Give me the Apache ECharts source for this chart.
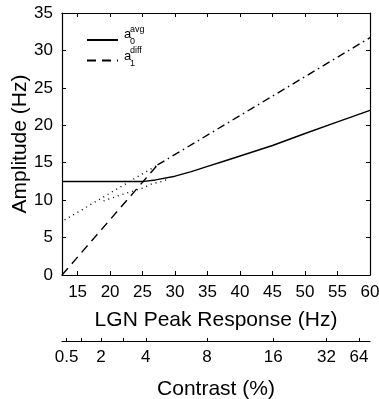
<!DOCTYPE html>
<html>
<head>
<meta charset="utf-8">
<script src="https://cdn.jsdelivr.net/npm/echarts@6/dist/echarts.min.js"></script>
<style>
  html, body { margin: 0; padding: 0; background: #fff; }
  #main { width: 379px; height: 399px; }
</style>
</head>
<body>
<div id="main"></div>
<script>
// 横轴刻度 (LGN peak response, Hz)
var lgnTicks = [15, 20, 25, 30, 35, 40, 45, 50, 55, 60]
// 对比度刻度及其在 LGN 轴上的位置
var contrastLabels = ['0.5', '2', '4', '8', '16', '32', '64']
var contrastPos = [13.3, 18.6, 25.5, 34.9, 45.1, 53.3, 58.3]
var contrastMinor = [15.5, 22.1]

// a0 avg (实线)
var avgX = [12.6, 25.2, 27, 30, 32.5, 35, 37.5, 40, 42.5, 45, 50, 55, 60]
var avgY = [12.5, 12.5, 12.7, 13.2, 13.8, 14.5, 15.2, 15.9, 16.6, 17.3, 18.9, 20.45, 22.0]
// a1 diff (虚线) 与其延长 (点划线)
var diffX = [12.6, 27.3]
var diffY = [0, 14.7]
var extX = [27.3, 60]
var extY = [14.7, 31.7]
// 点线
var dotUpX = [13.0, 27.3]
var dotUpY = [7.35, 14.7]
var dotLowX = [19.0, 22, 25, 26.5, 28, 28.6]
var dotLowY = [9.9, 10.8, 11.6, 12.2, 12.5, 12.7]

function pairs(xs, ys) {
    return xs.map(function (x, i) { return [x, ys[i]] })
}

var font = 'Liberation Sans'
var black = '#000'

var main = document.getElementById('main')
var myChart = echarts.init(main)

var lineSeries = function (name, data, type) {
    return {
        name: name,
        type: 'line',
        data: data,
        symbol: 'none',
        silent: true,
        animation: false,
        itemStyle: { color: black },
        lineStyle: { color: black, width: 1.4, type: type }
    }
}

var option = {
    backgroundColor: '#fff',
    animation: false,
    // 固定绘图区, 不因标签溢出而收缩
    grid: { left: 62, top: 13, right: 9, bottom: 124, outerBoundsMode: 'none', containLabel: false },
    legend: {
        data: ['a0avg', 'a1diff'],
        orient: 'vertical',
        left: 81,
        top: 28,
        itemWidth: 31,
        itemHeight: 14,
        itemGap: 8,
        selectedMode: false,
        // 只显示线型, 不要圆点
        itemStyle: { opacity: 0 },
        formatter: function () { return '' },
        textStyle: { fontSize: 1 }
    },
    xAxis: [
        {
            type: 'value',
            min: 12.6,
            max: 60,
            position: 'bottom',
            name: 'LGN Peak Response (Hz)',
            nameLocation: 'middle',
            nameGap: 35,
            nameTextStyle: { fontFamily: font, fontSize: 21, color: black },
            axisLine: { show: true, onZero: false, lineStyle: { color: black, width: 1.2 } },
            axisTick: { show: true, inside: true, length: 4, customValues: lgnTicks, lineStyle: { color: black } },
            axisLabel: { customValues: lgnTicks, fontFamily: font, fontSize: 17, color: black, margin: 9 },
            splitLine: { show: false }
        },
        {
            type: 'value',
            min: 12.6,
            max: 60,
            position: 'top',
            axisLine: { show: true, onZero: false, lineStyle: { color: black, width: 1.2 } },
            axisTick: { show: true, inside: true, length: 4, customValues: lgnTicks, lineStyle: { color: black } },
            axisLabel: { show: false },
            splitLine: { show: false }
        },
        {
            type: 'value',
            min: 12.6,
            max: 60,
            position: 'bottom',
            offset: 66,
            name: 'Contrast (%)',
            nameLocation: 'middle',
            nameGap: 38,
            nameTextStyle: { fontFamily: font, fontSize: 21, color: black },
            axisLine: { show: true, onZero: false, lineStyle: { color: black, width: 1.2 } },
            axisTick: {
                show: true, inside: true, length: 3,
                customValues: contrastPos.concat(contrastMinor),
                lineStyle: { color: black }
            },
            axisLabel: {
                customValues: contrastPos,
                fontFamily: font, fontSize: 17, color: black, margin: 8,
                formatter: function (v) {
                    var i = contrastPos.indexOf(v)
                    return i >= 0 ? contrastLabels[i] : ''
                }
            },
            splitLine: { show: false }
        }
    ],
    yAxis: [
        {
            type: 'value',
            min: 0,
            max: 35,
            interval: 5,
            position: 'left',
            name: 'Amplitude (Hz)',
            nameLocation: 'middle',
            nameGap: 31,
            nameMoveOverlap: false,
            nameTextStyle: { fontFamily: font, fontSize: 21, color: black },
            axisLine: { show: true, onZero: false, lineStyle: { color: black, width: 1.2 } },
            axisTick: { show: true, inside: true, length: 4, lineStyle: { color: black } },
            axisLabel: { fontFamily: font, fontSize: 17, color: black, margin: 9 },
            splitLine: { show: false }
        },
        {
            type: 'value',
            min: 0,
            max: 35,
            interval: 5,
            position: 'right',
            axisLine: { show: true, onZero: false, lineStyle: { color: black, width: 1.2 } },
            axisTick: { show: true, inside: true, length: 4, lineStyle: { color: black } },
            axisLabel: { show: false },
            splitLine: { show: false }
        }
    ],
    graphic: [
        { type: 'text', left: 124, top: 28, style: { text: 'a', font: '13px ' + font, fill: black } },
        { type: 'text', left: 130, top: 25, style: { text: 'avg', font: '9px ' + font, fill: black } },
        { type: 'text', left: 130, top: 37, style: { text: '0', font: '9px ' + font, fill: black } },
        { type: 'text', left: 124, top: 50, style: { text: 'a', font: '13px ' + font, fill: black } },
        { type: 'text', left: 130, top: 46, style: { text: 'diff', font: '9px ' + font, fill: black } },
        { type: 'text', left: 130, top: 59, style: { text: '1', font: '9px ' + font, fill: black } }
    ],
    series: [
        lineSeries('a0avg', pairs(avgX, avgY), 'solid'),
        lineSeries('a1diff', pairs(diffX, diffY), [9, 6]),
        lineSeries('ext', pairs(extX, extY), [8, 4, 1.5, 4]),
        lineSeries('dotUp', pairs(dotUpX, dotUpY), [1, 4]),
        lineSeries('dotLow', pairs(dotLowX, dotLowY), [1, 4])
    ]
}
myChart.setOption(option)
</script>
</body>
</html>
